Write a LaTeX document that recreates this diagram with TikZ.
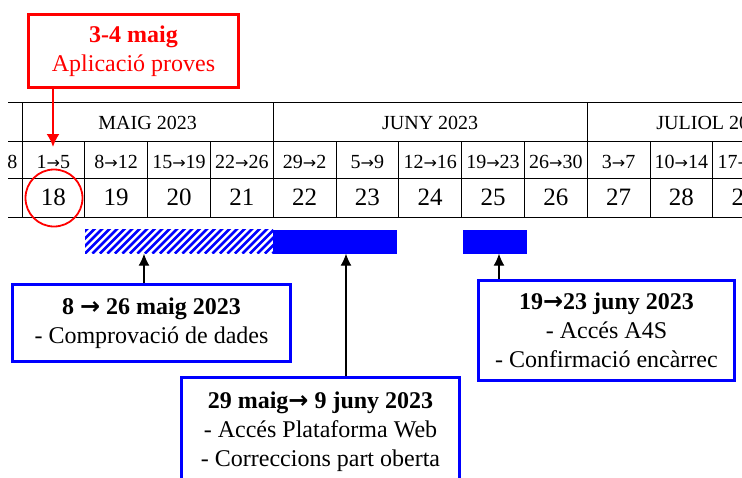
\documentclass[tikz,border=0pt]{standalone}
\usepackage{fontspec}
\setmainfont{Liberation Serif}
\newfontfamily\arrowfont[Scale=0.8]{DejaVu Sans}
\newcommand\ra{{\arrowfont →}}
\newcommand\rb{{\arrowfont\fontsize{30}{29}\selectfont →}}
\usetikzlibrary{arrows.meta}
\usetikzlibrary{calc}

\begin{document}
\begin{tikzpicture}[x=1pt,y=-1pt,inner sep=0pt,>={Latex[length=12pt,width=11pt]},
  grid/.style={line width=1pt},
  monthlabel/.style={anchor=base,font=\fontsize{20}{24}\selectfont},
  wklabel/.style={anchor=base,font=\fontsize{20}{24}\selectfont},
  numlabel/.style={anchor=base,font=\fontsize{25}{30}\selectfont},
  bluebox/.style={draw=blue,line width=3pt,align=center,font=\fontsize{24}{29}\selectfont},
  redbox/.style={draw=red,text=red,line width=3pt,align=center,font=\fontsize{24}{29}\selectfont},
  solidbar/.style={fill=blue,minimum height=24pt},
  hatchbar/.style={minimum height=24pt,path picture={
    \foreach \k in {0,...,30}
      \draw[blue,line width=2.6pt] ([xshift={7.5*\k-30}]path picture bounding box.south west) -- ++(30,-30);}},
  arr/.style={->,line width=1.3pt}]
\useasboundingbox (0,0) rectangle (742,477);
\clip (0,0) rectangle (742,477);

% calendar
\begin{scope}
\clip (8,95) rectangle (742,225);
\foreach \y in {102,141,178,217} \draw[grid] (8,\y) -- (742,\y);
\foreach \i in {0,...,12} \draw[grid] ({22+62.8*\i},141) -- ({22+62.8*\i},217);
\foreach \xm in {22,273.2,587.2,838.4} \draw[grid] (\xm,102) -- (\xm,141);
\node[monthlabel] (maig) at (147.6,129.5) {MAIG 2023};
\node[monthlabel] (juny) at (430.2,129.5) {JUNY 2023};
\node[monthlabel] (juliol) at (712.8,129.5) {JULIOL 2023};
\foreach \wk/\num [count=\i from -1] in {24\ra28/17,1\ra5/18,8\ra12/19,15\ra19/20,22\ra26/21,29\ra2/22,5\ra9/23,12\ra16/24,19\ra23/25,26\ra30/26,3\ra7/27,10\ra14/28,17\ra21/29}
{
  \node[wklabel] (wk\i) at ({53.4+62.8*\i},168) {\wk};
  \node[numlabel] (num\i) at ({53.4+62.8*\i},205) {\num};
}
\end{scope}

\node[draw=red,line width=1.8pt,circle,minimum size=57pt] (ring) at (54,198) {};

% bars
\node[hatchbar,minimum width=188pt] (hatch) at (179,241.5) {};
\node[solidbar,minimum width=124pt] (web) at (335,241.5) {};
\node[solidbar,minimum width=64pt] (afs) at (495,241.5) {};

% boxes
\node[redbox,minimum width=210pt,minimum height=73pt] (proves) at (133.5,51)
  {\bfseries 3-4 maig\\Aplicació proves};
\node[bluebox,minimum width=278pt,minimum height=77pt] (dades) at (151.5,323)
  {\bfseries 8 \rb{} 26 maig 2023\\- Comprovació de dades};
\node[bluebox,minimum width=278pt,minimum height=108pt] (plataforma) at (320.5,431.5)
  {\bfseries 29 maig\rb{} 9 juny 2023\\- Accés Plataforma Web\\- Correccions part oberta};
\node[bluebox,minimum width=256pt,minimum height=100pt] (encarrec) at (606.5,330.5)
  {\bfseries 19\rb23 juny 2023\\- Accés A4S\\- Confirmació encàrrec};

\coordinate (tip) at (53,147);
\draw[->,red,line width=2pt,>={Latex[length=13pt,width=13pt]}] ([xshift=-80.5pt]proves.south) -- (tip);
\draw[arr] ([xshift=-7.5pt]dades.north) -- ([xshift=-7.5pt]dades.north |- hatch.south);
\draw[arr] ([xshift=25.5pt]plataforma.north) -- ([xshift=25.5pt]plataforma.north |- web.south);
\draw[arr] ([xshift=-107.5pt]encarrec.north) -- ([xshift=-107.5pt]encarrec.north |- afs.south);
\end{tikzpicture}
\end{document}
